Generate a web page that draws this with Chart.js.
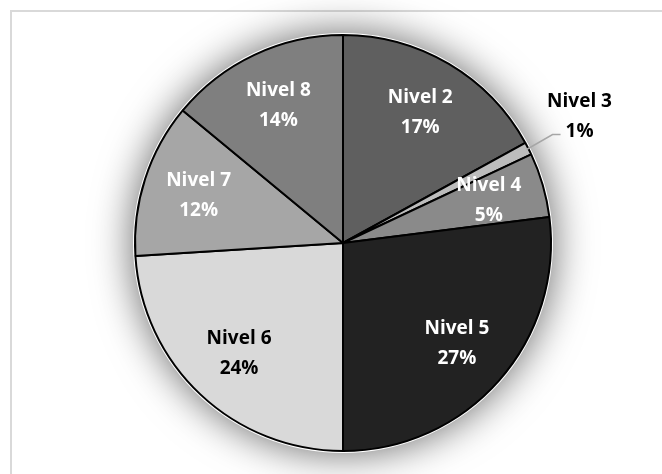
<!DOCTYPE html>
<html>
<head>
<meta charset="utf-8">
<script src="https://cdn.jsdelivr.net/npm/chart.js@4.4.0/dist/chart.umd.min.js"></script>
<style>
  body { margin: 0; background: #ffffff; }
  .wrap { position: relative; width: 662px; height: 474px; overflow: hidden; }
  .frame {
    position: absolute; left: 10px; top: 10px; width: 700px; height: 500px;
    border-left: 2px solid #d9d9d9; border-top: 2px solid #d9d9d9;
  }
  #chart { position: absolute; left: 0; top: 0; }
</style>
</head>
<body>
<div class="wrap">
  <div class="frame"></div>
  <canvas id="chart" width="662" height="474"></canvas>
</div>
<script>
const levels = ["Nivel 2", "Nivel 3", "Nivel 4", "Nivel 5", "Nivel 6", "Nivel 7", "Nivel 8"];
const shares = [17, 1, 5, 27, 24, 12, 14];
const sliceColors = ["#5f5f5f", "#bcbcbc", "#8a8a8a", "#222222", "#d9d9d9", "#a6a6a6", "#7f7f7f"];
const textColors = ["#ffffff", "#000000", "#ffffff", "#ffffff", "#000000", "#ffffff", "#ffffff"];
// slice whose label sits outside the pie with a leader line
const outsideLabel = "Nivel 3";

const FONT = 'bold 19px "Open Sans"';

// soft grey glow behind the pie
const pieShadow = {
  id: "pieShadow",
  beforeDatasetsDraw(chart) {
    const arc = chart.getDatasetMeta(0).data[0];
    if (!arc) return;
    const ctx = chart.ctx;
    ctx.save();
    ctx.shadowColor = "rgba(0,0,0,0.6)";
    ctx.shadowBlur = 40;
    ctx.fillStyle = "#ffffff";
    ctx.beginPath();
    ctx.arc(arc.x, arc.y, arc.outerRadius + 2, 0, Math.PI * 2);
    ctx.fill();
    ctx.restore();
  }
};

const sliceLabels = {
  id: "sliceLabels",
  afterDatasetsDraw(chart) {
    const ctx = chart.ctx;
    const meta = chart.getDatasetMeta(0);
    ctx.save();
    ctx.font = FONT;
    ctx.textAlign = "center";
    ctx.textBaseline = "middle";
    meta.data.forEach((arc, i) => {
      const mid = (arc.startAngle + arc.endAngle) / 2;
      const R = arc.outerRadius;
      let x, y;
      if (levels[i] === outsideLabel) {
        const ex = arc.x + (R - 2) * Math.cos(mid);
        const ey = arc.y + (R - 2) * Math.sin(mid);
        ctx.strokeStyle = "#a6a6a6";
        ctx.lineWidth = 1.5;
        ctx.beginPath();
        ctx.moveTo(ex, ey);
        ctx.lineTo(ex + 26, ey - 15);
        ctx.lineTo(ex + 34, ey - 15);
        ctx.stroke();
        x = ex + 53;
        y = ey - 33;
      } else {
        x = arc.x + R * 0.73 * Math.cos(mid);
        y = arc.y + R * 0.73 * Math.sin(mid);
      }
      ctx.fillStyle = textColors[i];
      ctx.fillText(levels[i], x, y - 15);
      ctx.fillText(shares[i] + "%", x, y + 15);
    });
    ctx.restore();
  }
};

new Chart(document.getElementById("chart"), {
  type: "pie",
  data: {
    labels: levels,
    datasets: [{
      data: shares,
      backgroundColor: sliceColors,
      borderColor: "#000000",
      borderWidth: 2
    }]
  },
  options: {
    responsive: false,
    animation: false,
    layout: { padding: { top: 34, bottom: 22, left: 24, right: 0 } },
    plugins: {
      legend: { display: false },
      tooltip: { enabled: false }
    }
  },
  plugins: [pieShadow, sliceLabels]
});
</script>
</body>
</html>
